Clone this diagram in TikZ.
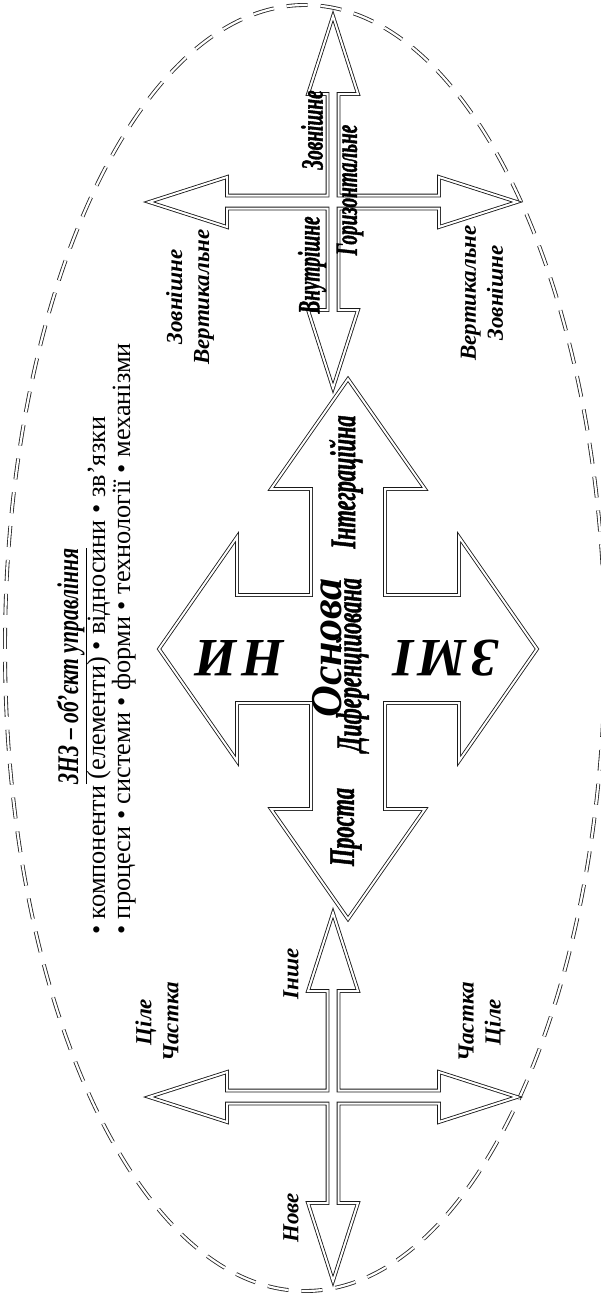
\documentclass[tikz,border=0pt]{standalone}
\usepackage{fontspec}
\setmainfont{Liberation Serif}
\newfontfamily\narrowserif[FakeStretch=0.62, FakeBold=1.2]{Liberation Serif}
\newfontfamily\titleserif[FakeStretch=0.72]{Liberation Serif}

% outline of a cross of four arrows, centred at (0,0)
% #1,#2 shaft half widths (vertical, horizontal)
% #3,#4,#5 vertical arm length, head length, head half width
% #6,#7,#8 horizontal arm length, head length, head half width
\newcommand{\crossoutline}[8]{%
  \draw[outline] (0,{-#3}) -- ({#5},{-#3+#4}) -- ({#1},{-#3+#4}) -- ({#1},{-#2})
    -- ({#6-#7},{-#2}) -- ({#6-#7},{-#8}) -- ({#6},0) -- ({#6-#7},{#8}) -- ({#6-#7},{#2})
    -- ({#1},{#2}) -- ({#1},{#3-#4}) -- ({#5},{#3-#4}) -- (0,{#3})
    -- ({-#5},{#3-#4}) -- ({-#1},{#3-#4}) -- ({-#1},{#2})
    -- ({-#6+#7},{#2}) -- ({-#6+#7},{#8}) -- ({-#6},0) -- ({-#6+#7},{-#8}) -- ({-#6+#7},{-#2})
    -- ({-#1},{-#2}) -- ({-#1},{-#3+#4}) -- ({-#5},{-#3+#4}) -- cycle;}

\begin{document}
\begin{tikzpicture}[x=1pt, y=-1pt,
    outline/.style={draw=black!90, line width=0.85pt, double=white, double distance=2pt},
    oval/.style={draw=black!85, line width=0.85pt, double=white, double distance=2.2pt,
      dash pattern=on 21pt off 13pt},
    tag/.style={font=\bfseries\itshape\fontsize{23}{27}\selectfont, rotate=90,
      inner sep=0pt, align=center},
    slim/.style={font=\narrowserif\bfseries\itshape\fontsize{31}{34}\selectfont,
      rotate=90, inner sep=0pt},
    wide/.style={font=\narrowserif\bfseries\itshape\fontsize{36}{40}\selectfont,
      rotate=90, inner sep=0pt},
    big/.style={font=\bfseries\itshape\fontsize{54}{60}\selectfont, rotate=180,
      inner sep=0pt},
    listline/.style={font=\fontsize{26.3}{30}\selectfont, rotate=90, anchor=base west,
      inner sep=0pt}]
  \useasboundingbox (0,0) rectangle (601,1296);

  \draw[oval] (305,648) ellipse [x radius=300, y radius=643];

  % three crosses
  \begin{scope}[shift={(333,202)}]
    \crossoutline{5.5}{6.5}{186}{78}{25}{184}{78}{25}
  \end{scope}
  \begin{scope}[shift={(348,649)}]
    \crossoutline{37}{54}{270}{110}{77}{189}{78}{112}
  \end{scope}
  \begin{scope}[shift={(333,1097)}]
    \crossoutline{5.5}{6.5}{184}{78}{25}{184}{78}{25}
  \end{scope}

  % title and list
  \node (title) at (78,666) [rotate=90, anchor=base, inner sep=0pt,
    font=\titleserif\bfseries\itshape\fontsize{30}{34}\selectfont]
    {\underline{ЗНЗ – об’єкт управління}};
  \node (list1) at (105,935) [listline] {• компоненти (елементи) • відносини • зв’язки};
  \node (list2) at (130,935) [listline] {• процеси • системи • форми • технології • механізми};

  % upper cross
  \node (outer) at (312,130) [slim] {Зовнішне};
  \node (horiz) at (350,190) [slim] {Горизонтальне};
  \node (inner) at (312,265) [slim] {Внутрішне};
  \node (vleft) at (190,297) [tag] {Зовнішне\\Вертикальне};
  \node (vright) at (482,293) [tag] {Вертикальне\\Зовнішне};

  % middle cross
  \node (integr) at (346,482) [wide] {Інтеграційна};
  \node (basis) at (327,648) [rotate=90, inner sep=0pt,
    font=\bfseries\itshape\fontsize{44}{48}\selectfont] {Основа};
  \node (diff) at (352,665) [wide] {Диференційована};
  \node (simple) at (346,827) [wide] {Проста};
  \node (changeA) at (446,658) [big] {З\hspace{4pt}М\hspace{4pt}І};
  \node (changeB) at (240,658) [big] {Н\hspace{4pt}И};

  % lower cross
  \node (other) at (291,974) [tag] {Інше};
  \node (new) at (291,1218) [tag] {Нове};
  \node (wleft) at (157,1022) [tag] {Ціле\\Частка};
  \node (wright) at (482,1022) [tag] {Частка\\Ціле};
\end{tikzpicture}
\end{document}
